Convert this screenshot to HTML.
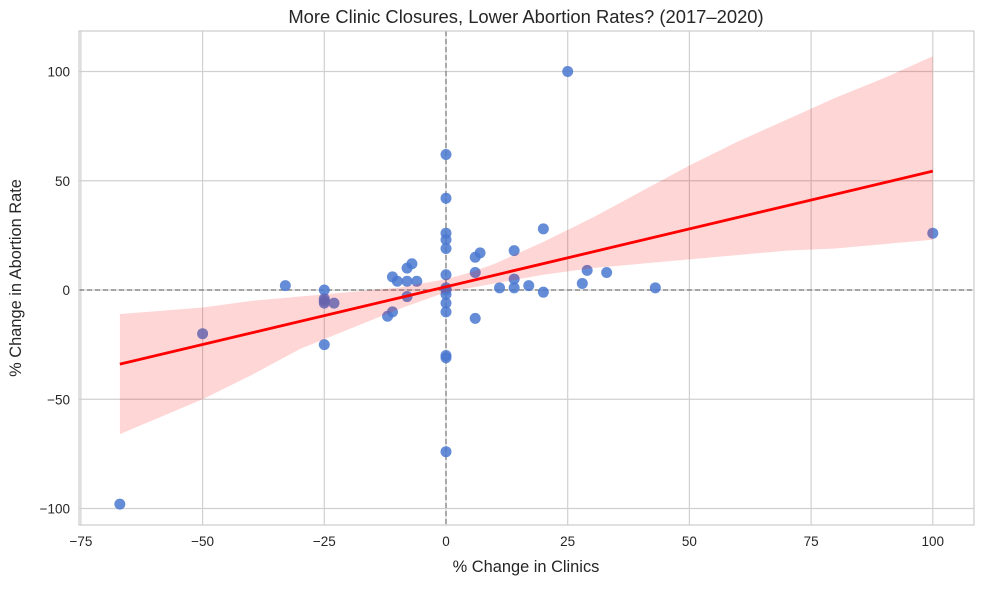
<!DOCTYPE html>
<html><head><meta charset="utf-8"><style>
body{margin:0;background:#fff;font-family:"Liberation Sans",sans-serif;}
svg text{font-family:"Liberation Sans",sans-serif;fill:#262626}
</style></head><body>
<svg id="chart" width="984" height="584" viewBox="0 0 984 584" xmlns="http://www.w3.org/2000/svg">
<rect x="0" y="0" width="984" height="584" fill="#fff"/>
<g id="grid"></g>
<g id="points"></g>
<g id="fit"></g>
<rect x="79" y="31" width="895" height="494" fill="none" stroke="#ccc" stroke-width="1.2"/>
<g id="ticks"></g>
<text x="526" y="23" text-anchor="middle" font-size="18.4">More Clinic Closures, Lower Abortion Rates? (2017–2020)</text>
<text x="526" y="572" text-anchor="middle" font-size="16.4">% Change in Clinics</text>
<text x="21" y="278" text-anchor="middle" font-size="16.4" transform="rotate(-90 21 278)">% Change in Abortion Rate</text>
</svg>
<script>
const xTicks=[-75,-50,-25,0,25,50,75,100];
const yTicks=[-100,-50,0,50,100];
const clinicChange=[-67,-50,-33,-25,-25,-25,-23,-25,-12,-11,-11,-10,-8,-8,-7,-6,-8,0,0,0,0,0,0,0,0,0,0,0,0,0,0,6,7,6,6,11,14,14,14,17,20,20,25,28,29,33,43,100,-25];
const rateChange=[-98,-20,2,0,-5,-6,-6,-25,-12,-10,6,4,4,10,12,4,-3,62,42,26,23,19,7,1,0,-2,-6,-10,-30,-31,-74,15,17,8,-13,1,18,5,1,2,28,-1,100,3,9,8,1,26,-4];
const bandX=[-67,-50,-40,-30,-20,-10,-5,0,5,10,20,30,40,50,60,70,80,90,100];
const bandUpper=[-11,-8,-5,-3,-1,1,3,5,8,12,22,33,45,57,68,78,88,97,107];
const bandLower=[-66,-50,-39,-27,-18,-9,-5,-1,1,3,7,10,12,14,16,18,19,21,23];
const fitSlope=0.529, fitIntercept=1.5;
const xs=v=>446+v*4.868;
const ys=v=>290-v*2.185;
const NS="http://www.w3.org/2000/svg";
function mk(tag,attrs,parent){const e=document.createElementNS(NS,tag);for(const k in attrs)e.setAttribute(k,attrs[k]);parent.appendChild(e);return e;}
const grid=document.getElementById('grid'),ticks=document.getElementById('ticks');
xTicks.forEach(t=>{
 const l=mk('line',{x1:xs(t),x2:xs(t),y1:31,y2:525,stroke:'#d0d0d0','stroke-width':1.2},grid);
 
 
 const tx=mk('text',{x:xs(t),y:546,'text-anchor':'middle','font-size':13.5},ticks);
 tx.textContent=t===0?'0':String(t).replace('-','−');
 
 
});
yTicks.forEach(t=>{
 const l=mk('line',{x1:79,x2:974,y1:ys(t),y2:ys(t),stroke:'#d0d0d0','stroke-width':1.2},grid);
 
 
 const tx=mk('text',{x:70,y:ys(t)+5,'text-anchor':'end','font-size':13.5},ticks);
 tx.textContent=t===0?'0':String(t).replace('-','−');
 
 
});
const z1=mk('line',{x1:79,x2:974,y1:ys(0),y2:ys(0),stroke:'#777','stroke-width':1.2,'stroke-dasharray':'5,3'},grid);


const z2=mk('line',{x1:xs(0),x2:xs(0),y1:31,y2:525,stroke:'#777','stroke-width':1.2,'stroke-dasharray':'5,3'},grid);


const pts=document.getElementById('points');
clinicChange.forEach((x,i)=>{
 const c=mk('circle',{cx:xs(x),cy:ys(rateChange[i]),r:5.5,fill:'#4a78d0','fill-opacity':0.85},pts);
 
 
});
const fit=document.getElementById('fit');
let d='M'+bandX.map((x,i)=>xs(x)+','+ys(bandUpper[i])).join(' L');
for(let i=bandX.length-1;i>=0;i--)d+=' L'+xs(bandX[i])+','+ys(bandLower[i]);
const band=mk('path',{d:d+'Z',fill:'#ff0000','fill-opacity':0.16},fit);


const x0=-67,x1=100;
const ln=mk('line',{x1:xs(x0),y1:ys(fitSlope*x0+fitIntercept),x2:xs(x1),y2:ys(fitSlope*x1+fitIntercept),stroke:'#ff0000','stroke-width':2.8},fit);


</script>
</body></html>
